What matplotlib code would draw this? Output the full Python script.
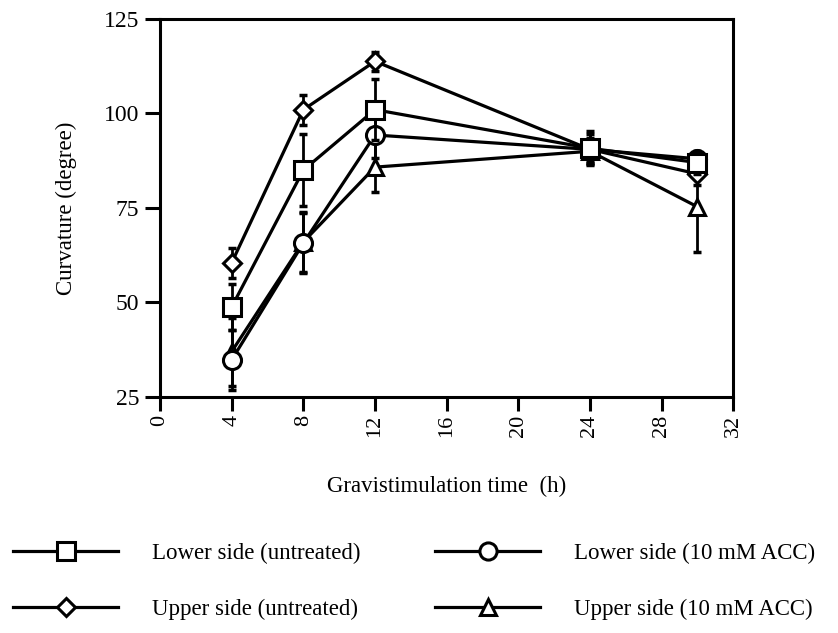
import matplotlib.pyplot as plt
import numpy as np

plt.rcParams['font.family'] = ['Liberation Serif', 'DejaVu Serif']

hours = [4, 8, 12, 24, 30]

lower_untreated = [48.8, 85, 101, 90.8, 87]
lower_untreated_err = [6, 9.5, 8, 4.5, 3]

upper_untreated = [60.5, 101, 113.8, 90.5, 84]
upper_untreated_err = [4, 4, 2.5, 4, 3]

lower_acc = [34.8, 65.7, 94.3, 90.5, 88]
lower_acc_err = [8, 8, 6, 3, 2]

upper_acc = [37, 66, 85.8, 90, 75.3]
upper_acc_err = [9, 8, 6.5, 3, 12]

series = [
    ('Lower side (untreated)', lower_untreated, lower_untreated_err, 's', 13),
    ('Upper side (untreated)', upper_untreated, upper_untreated_err, 'D', 9.5),
    ('Lower side (10 mM ACC)', lower_acc, lower_acc_err, 'o', 13),
    ('Upper side (10 mM ACC)', upper_acc, upper_acc_err, '^', 12),
]

fig = plt.figure(figsize=(8.38, 6.33), dpi=100)
ax = fig.add_axes([0.191, 0.373, 0.684, 0.597])

handles = {}
for zo, (name, vals, err, mk, ms) in zip([5, 4, 3, 2], series):
    ax.errorbar(hours, vals, yerr=err, fmt='none', ecolor='black',
                elinewidth=2, capsize=3, capthick=2.5, zorder=zo)
    h, = ax.plot(hours, vals, color='black', lw=2.3, marker=mk, ms=ms,
                 mfc='white', mec='black', mew=2.2, zorder=zo + 0.5)
    handles[name] = h

ax.set_xlim(0, 32)
ax.set_ylim(25, 125)
ax.set_xticks(np.arange(0, 33, 4))
ax.set_yticks([25, 50, 75, 100, 125])
ax.tick_params(axis='x', direction='out', length=10, width=2.2,
               labelsize=16, labelrotation=90, pad=3)
ax.tick_params(axis='y', direction='out', length=11, width=2.2,
               labelsize=17, pad=4)
for s in ax.spines.values():
    s.set_linewidth(2.2)

ax.set_xlabel('Gravistimulation time  (h)', fontsize=16.5)
ax.set_ylabel('Curvature (degree)', fontsize=16.5)
ax.xaxis.set_label_coords(0.5, -0.21)
ax.yaxis.set_label_coords(-0.145, 0.5)

# two legend columns placed separately
leg_kw = dict(frameon=False, fontsize=16.5, handlelength=4.6,
              handletextpad=1.45, labelspacing=1.5, markerscale=0.95,
              loc='upper left', borderpad=0, borderaxespad=0)
col1 = ['Lower side (untreated)', 'Upper side (untreated)']
col2 = ['Lower side (10 mM ACC)', 'Upper side (10 mM ACC)']
fig.legend([handles[n] for n in col1], col1,
           bbox_to_anchor=(0.0155, 0.142), **leg_kw)
fig.legend([handles[n] for n in col2], col2,
           bbox_to_anchor=(0.519, 0.142), **leg_kw)

fig.savefig('out.png', dpi=100)
